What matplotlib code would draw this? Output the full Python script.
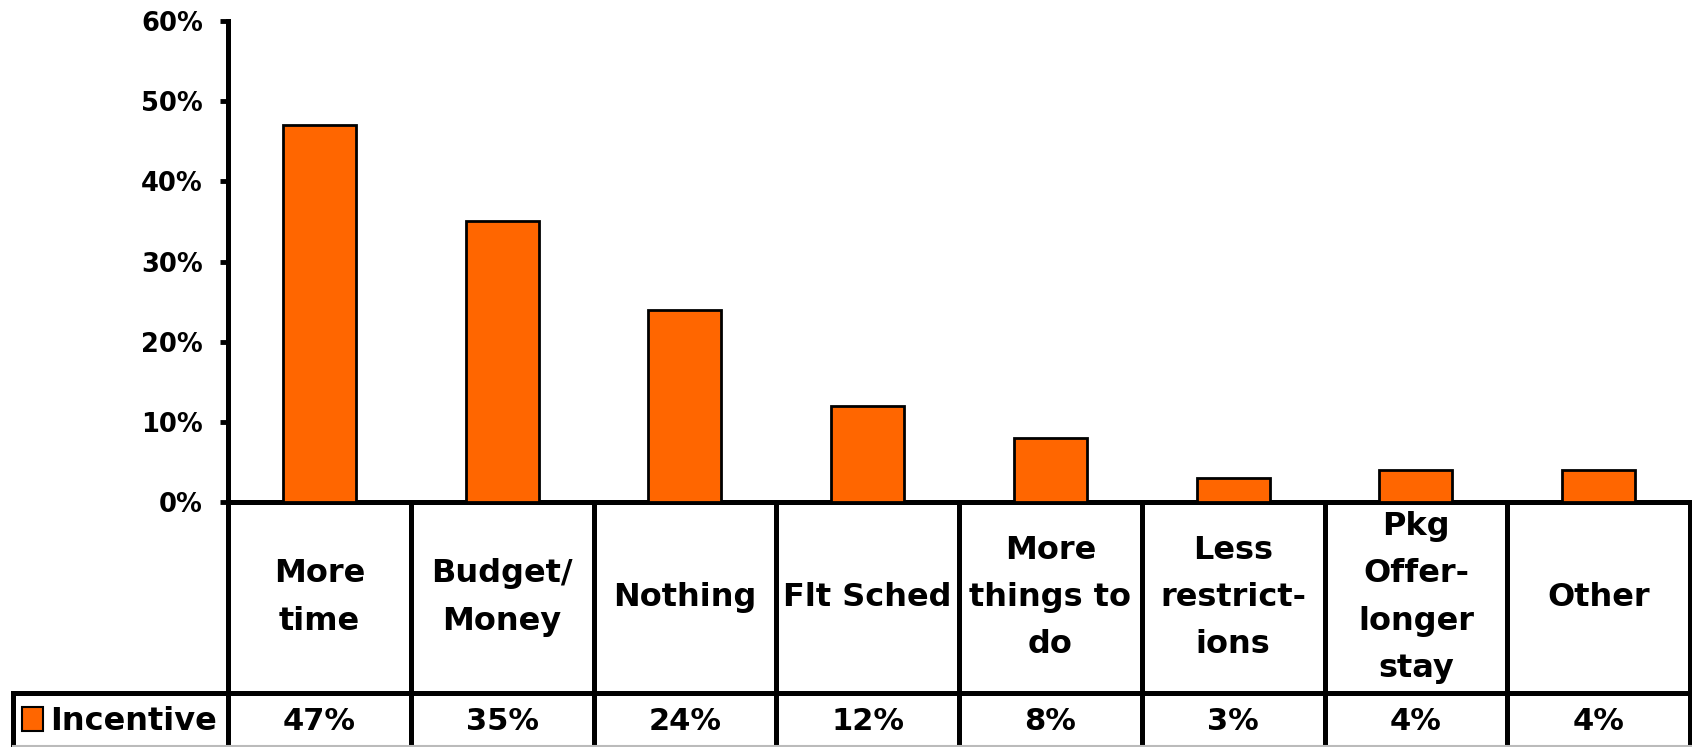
import matplotlib
matplotlib.use("Agg")
import matplotlib.pyplot as plt
import matplotlib.transforms as mtransforms
from matplotlib.lines import Line2D
from matplotlib.patches import Rectangle

# Chart data
categories = ["More\ntime", "Budget/\nMoney", "Nothing", "Flt Sched",
              "More\nthings to\ndo", "Less\nrestrict-\nions",
              "Pkg\nOffer-\nlonger\nstay", "Other"]
incentive = [47, 35, 24, 12, 8, 3, 4, 4]
series_name = "Incentive"
y_ticks = [0, 10, 20, 30, 40, 50, 60]

ORANGE = "#FF6600"
FONT = "DejaVu Sans"

W, H = 1692, 747
fig = plt.figure(figsize=(W / 100, H / 100), dpi=100)

def fx(px):
    return px / W

def fy(py):
    return 1 - py / H

# Plot area (pixel layout: left 228, right 1690, top 21, baseline 502)
ax = fig.add_axes([fx(228), fy(502), fx(1690 - 228), (502 - 21) / H])
x = list(range(len(categories)))
ax.bar(x, incentive, width=0.4, color=ORANGE, edgecolor="black", linewidth=2, zorder=3)
ax.set_xlim(-0.5, len(categories) - 0.5)
ax.set_ylim(0, 60)
ax.set_yticks(y_ticks)
ax.set_yticklabels([f"{v}%" for v in y_ticks], fontsize=18.5, fontweight="bold", family=FONT)
ax.set_xticks([])
ax.tick_params(axis="y", direction="out", length=6, width=3.5, pad=12)
for s in ("top", "right"):
    ax.spines[s].set_visible(False)
for s in ("left", "bottom"):
    ax.spines[s].set_linewidth(3.6)
    ax.spines[s].set_capstyle("projecting")

# Data table beneath the axis
blend = mtransforms.blended_transform_factory(ax.transData, fig.transFigure)
LW = 3.6
row_split = fy(693)
for i in range(len(categories) + 1):
    fig.add_artist(Line2D([i - 0.5, i - 0.5], [fy(502), 0], transform=blend,
                          color="black", lw=LW, solid_capstyle="projecting"))
fig.add_artist(Line2D([fx(13), fx(1690)], [row_split, row_split], transform=fig.transFigure,
                      color="black", lw=LW, solid_capstyle="projecting"))
fig.add_artist(Line2D([fx(13), fx(13)], [row_split, 0], transform=fig.transFigure,
                      color="black", lw=LW, solid_capstyle="projecting"))
fig.add_artist(Line2D([fx(13), 1], [fy(746), fy(746)], transform=fig.transFigure,
                      color="#bbbbbb", lw=1.5))

for i, (lab, v) in enumerate(zip(categories, incentive)):
    fig.text(i, fy(597.5), lab, transform=blend, ha="center", va="center",
             multialignment="center", fontsize=23, fontweight="bold", family=FONT,
             linespacing=1.68)
    fig.text(i, fy(721), f"{v}%", transform=blend, ha="center", va="center",
             fontsize=22, fontweight="bold", family=FONT)

# Legend key in the data row
fig.add_artist(Rectangle((fx(22), fy(731)), fx(21), 24 / H, transform=fig.transFigure,
                         facecolor=ORANGE, edgecolor="black", lw=1.5))
fig.text(fx(50), fy(721), series_name, ha="left", va="center",
         fontsize=23, fontweight="bold", family=FONT)

fig.savefig("out.png", dpi=100)
